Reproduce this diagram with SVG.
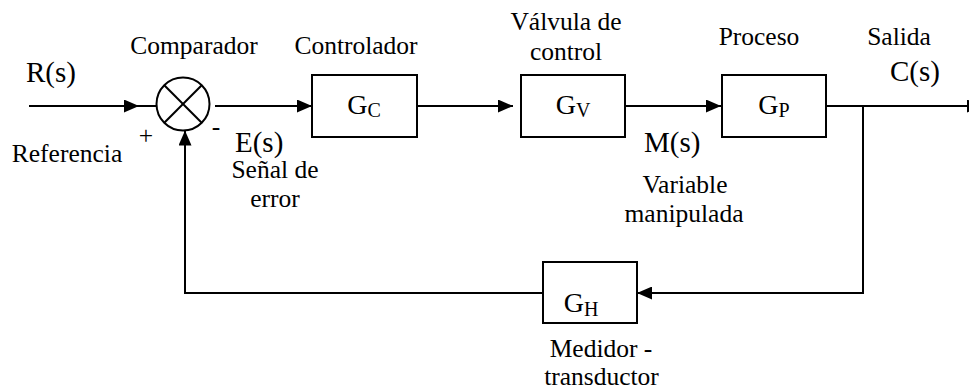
<svg xmlns="http://www.w3.org/2000/svg" width="969" height="391" viewBox="0 0 969 391" font-family="'Liberation Serif','Times New Roman',serif">
<style>
text{font-family:"Liberation Serif","Times New Roman",serif;fill:#000}
.lbl{font-size:25.5px;text-anchor:middle}
.sig{font-size:29px}
.g{font-size:28px;text-anchor:middle}
.sub{font-size:20px}
.box{fill:#fff;stroke:#000;stroke-width:2}
.ln{fill:none;stroke:#000;stroke-width:2}
</style>
<defs>
<marker id="ah" markerUnits="userSpaceOnUse" markerWidth="15" markerHeight="13" refX="15" refY="6.5" orient="auto">
<path d="M0,0 L15,6.5 L0,13 z" fill="#000"/>
</marker>
</defs>
<rect width="969" height="391" fill="#fff"/>

<g id="connectors">
<line class="ln" x1="29" y1="106" x2="156.5" y2="106"/>
<line class="ln" x1="29" y1="106" x2="139" y2="106" marker-end="url(#ah)"/>
<line class="ln" x1="215" y1="106" x2="312" y2="106" marker-end="url(#ah)"/>
<line class="ln" x1="417" y1="106" x2="513" y2="106" marker-end="url(#ah)"/>
<line class="ln" x1="625" y1="106" x2="721" y2="106" marker-end="url(#ah)"/>
<line class="ln" x1="826" y1="106" x2="982" y2="106" marker-end="url(#ah)"/>
<polyline class="ln" points="863,106 863,293 637,293" marker-end="url(#ah)"/>
<polyline class="ln" points="543,293 185,293 185,130.5" marker-end="url(#ah)"/>
</g>

<g id="comparador">
<circle cx="183" cy="104" r="26.5" class="box"/>
<line class="ln" x1="164.3" y1="85.3" x2="201.7" y2="122.7"/>
<line class="ln" x1="201.7" y1="85.3" x2="164.3" y2="122.7"/>
<text class="lbl" x="194" y="54">Comparador</text>
<text class="lbl" x="146" y="143.5">+</text>
<text class="lbl" x="216" y="135">-</text>
</g>

<g id="controlador">
<rect class="box" x="312" y="75" width="105" height="62"/>
<text class="g" x="364" y="113.5">G<tspan class="sub" dy="3.5">C</tspan></text>
<text class="lbl" x="356" y="54">Controlador</text>
</g>

<g id="valvula">
<rect class="box" x="521" y="75" width="104" height="62"/>
<text class="g" x="573" y="113.5">G<tspan class="sub" dy="3.5">V</tspan></text>
<text class="lbl" x="566" y="30">Válvula de</text>
<text class="lbl" x="566" y="60">control</text>
</g>

<g id="proceso">
<rect class="box" x="722" y="75" width="104" height="62"/>
<text class="g" x="774" y="113.5">G<tspan class="sub" dy="3.5">P</tspan></text>
<text class="lbl" x="759" y="45">Proceso</text>
</g>

<g id="medidor">
<rect class="box" x="543" y="262" width="94" height="61"/>
<text class="g" x="581" y="312">G<tspan class="sub" dy="3.5">H</tspan></text>
<text class="lbl" x="601" y="357">Medidor -</text>
<text class="lbl" x="601.5" y="385">transductor</text>
</g>

<g id="senales">
<text class="sig" x="26" y="82">R(s)</text>
<text class="lbl" x="67" y="162">Referencia</text>
<text class="sig" x="235" y="152">E(s)</text>
<text class="lbl" x="275" y="178">Señal de</text>
<text class="lbl" x="275" y="207">error</text>
<text class="sig" x="644" y="152">M(s)</text>
<text class="lbl" x="685" y="193">Variable</text>
<text class="lbl" x="684" y="222">manipulada</text>
<text class="lbl" x="899" y="45">Salida</text>
<text class="sig" x="890" y="81">C(s)</text>
</g>
</svg>
